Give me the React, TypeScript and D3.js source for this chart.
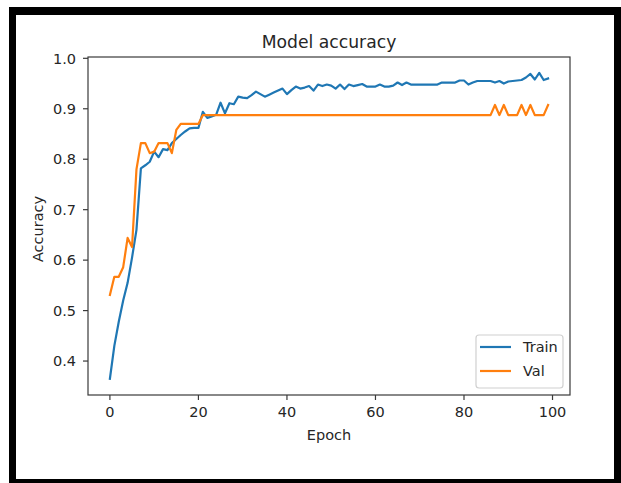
import React from "react";
import * as d3 from "d3";

const epochs: number[] = d3.range(0, 100);

const trainAcc: number[] = [
  0.365, 0.43, 0.478, 0.52, 0.555, 0.605, 0.66, 0.782, 0.788, 0.795,
  0.815, 0.804, 0.82, 0.818, 0.832, 0.84, 0.848, 0.855, 0.861, 0.862,
  0.862, 0.894, 0.882, 0.885, 0.888, 0.912, 0.891, 0.911, 0.909, 0.924,
  0.922, 0.921, 0.927, 0.934, 0.929, 0.924, 0.928, 0.932, 0.936, 0.94,
  0.929, 0.937, 0.944, 0.94, 0.942, 0.945, 0.936, 0.948, 0.945, 0.948,
  0.946, 0.94, 0.948, 0.939, 0.948, 0.945, 0.947, 0.949, 0.944, 0.944,
  0.944, 0.948, 0.944, 0.944, 0.946, 0.952, 0.947, 0.952, 0.948, 0.948,
  0.948, 0.948, 0.948, 0.948, 0.948, 0.952, 0.952, 0.952, 0.952, 0.956,
  0.956, 0.948, 0.952, 0.955, 0.955, 0.955, 0.955, 0.952, 0.955, 0.95,
  0.954, 0.955, 0.956, 0.957, 0.962, 0.969, 0.958, 0.971, 0.957, 0.96,
];

const valAcc: number[] = [
  0.531, 0.567, 0.567, 0.586, 0.644, 0.626, 0.78, 0.832, 0.832, 0.812,
  0.815, 0.832, 0.832, 0.832, 0.812, 0.858, 0.87, 0.87, 0.87, 0.87,
  0.87, 0.8875, 0.8875, 0.8875, 0.8875, 0.8875, 0.8875, 0.8875, 0.8875, 0.8875,
  0.8875, 0.8875, 0.8875, 0.8875, 0.8875, 0.8875, 0.8875, 0.8875, 0.8875, 0.8875,
  0.8875, 0.8875, 0.8875, 0.8875, 0.8875, 0.8875, 0.8875, 0.8875, 0.8875, 0.8875,
  0.8875, 0.8875, 0.8875, 0.8875, 0.8875, 0.8875, 0.8875, 0.8875, 0.8875, 0.8875,
  0.8875, 0.8875, 0.8875, 0.8875, 0.8875, 0.8875, 0.8875, 0.8875, 0.8875, 0.8875,
  0.8875, 0.8875, 0.8875, 0.8875, 0.8875, 0.8875, 0.8875, 0.8875, 0.8875, 0.8875,
  0.8875, 0.8875, 0.8875, 0.8875, 0.8875, 0.8875, 0.8875, 0.9075, 0.8875, 0.9075,
  0.8875, 0.8875, 0.8875, 0.9075, 0.8875, 0.9075, 0.8875, 0.8875, 0.8875, 0.9075,
];

const xTicks: number[] = [0, 20, 40, 60, 80, 100];
const yTicks: number[] = [0.4, 0.5, 0.6, 0.7, 0.8, 0.9, 1.0];
const seriesNames: string[] = ["Train", "Val"];
const seriesColors: string[] = ["#1f77b4", "#ff7f0e"];

const W = 621;
const H = 483;
const left = 88;
const right = 570;
const top = 57;
const bottom = 395;
const FONT = "'DejaVu Sans', sans-serif";
const TEXT = "#262626";
const SPINE = "#3a3a3a";

export default function App() {
  const x = d3.scaleLinear().domain([-4.95, 103.95]).range([left, right]);
  const y = d3.scaleLinear().domain([0.3327, 1.0026]).range([bottom, top]);
  const line = d3
    .line<number>()
    .x((_, i) => x(epochs[i]))
    .y((d) => y(d));
  const series = [trainAcc, valAcc];

  return (
    <svg
      width={W}
      height={H}
      style={{ position: "absolute", left: 0, top: 0, background: "#fff" }}
      fontFamily={FONT}
    >
      <rect x={0} y={0} width={W} height={H} fill="#fff" />
      <rect x={9} y={7} width={W - 9} height={H - 7} fill="#000" />
      <rect x={16} y={15} width={614 - 16} height={479 - 15} fill="#fff" />

      <defs>
        <clipPath id="plotclip">
          <rect x={left} y={top} width={right - left} height={bottom - top} />
        </clipPath>
      </defs>

      <g clipPath="url(#plotclip)">
        {series.map((s, k) => (
          <path
            key={k}
            d={line(s) || ""}
            fill="none"
            stroke={seriesColors[k]}
            strokeWidth={2.2}
            strokeLinejoin="round"
            strokeLinecap="square"
          />
        ))}
      </g>

      <rect
        x={left}
        y={top}
        width={right - left}
        height={bottom - top}
        fill="none"
        stroke={SPINE}
        strokeWidth={1.2}
      />

      {xTicks.map((t) => (
        <g key={"x" + t}>
          <line x1={x(t)} x2={x(t)} y1={bottom} y2={bottom + 5} stroke={SPINE} strokeWidth={1.2} />
          <text x={x(t)} y={417} textAnchor="middle" fontSize={14.5} fill={TEXT}>
            {t}
          </text>
        </g>
      ))}
      {yTicks.map((t) => (
        <g key={"y" + t}>
          <line x1={left - 5} x2={left} y1={y(t)} y2={y(t)} stroke={SPINE} strokeWidth={1.2} />
          <text x={76} y={y(t) + 5.2} textAnchor="end" fontSize={14.5} fill={TEXT}>
            {t.toFixed(1)}
          </text>
        </g>
      ))}

      <text x={(left + right) / 2} y={48} textAnchor="middle" fontSize={17.2} fill={TEXT}>
        Model accuracy
      </text>
      <text x={(left + right) / 2} y={440} textAnchor="middle" fontSize={14.5} fill={TEXT}>
        Epoch
      </text>
      <text
        transform={`translate(43, ${(top + bottom) / 2 + 3}) rotate(-90)`}
        textAnchor="middle"
        fontSize={14.5}
        fill={TEXT}
      >
        Accuracy
      </text>

      <g>
        <rect
          x={476}
          y={335}
          width={87}
          height={53}
          rx={3}
          fill="#fff"
          fillOpacity={0.8}
          stroke="#d0d0d0"
          strokeWidth={1.2}
        />
        {seriesNames.map((n, k) => (
          <g key={n}>
            <line
              x1={480}
              x2={511}
              y1={347 + k * 24}
              y2={347 + k * 24}
              stroke={seriesColors[k]}
              strokeWidth={2.2}
            />
            <text x={523} y={347 + k * 24 + 5.2} fontSize={14.5} fill={TEXT}>
              {n}
            </text>
          </g>
        ))}
      </g>
    </svg>
  );
}
